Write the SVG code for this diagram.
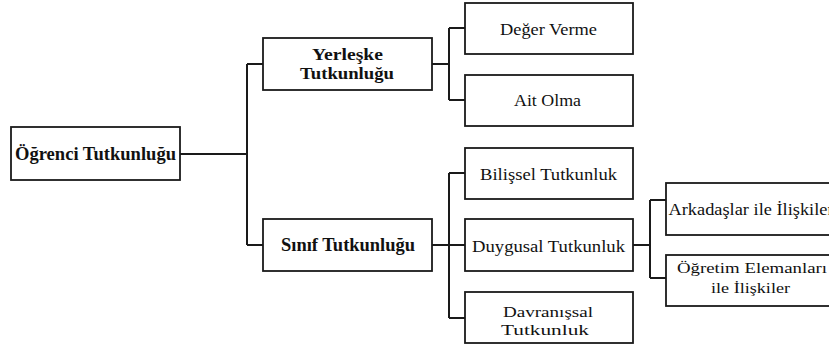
<svg xmlns="http://www.w3.org/2000/svg" width="829" height="349" viewBox="0 0 829 349">
<style>
.box{fill:#fff;stroke:#1a1a1a;stroke-width:1.8}
.con{fill:none;stroke:#1a1a1a;stroke-width:2}
text{font-family:'Liberation Serif','DejaVu Serif','Times New Roman',serif;fill:#111;text-anchor:middle}
.b{font-weight:bold;font-size:18px}
.b2{font-weight:bold;font-size:16.5px}
.r{font-size:16.5px}
.r2{font-size:15.5px}
</style>
<rect width="829" height="349" fill="#fff"/>
<g id="connectors">
<path class="con" d="M180,154 H247 M247,64 V245 M247,64 H263 M247,245 H263"/>
<path class="con" d="M432,64 H449 M449,28 V100 M449,28 H465 M449,100 H465"/>
<path class="con" d="M432,245 H449 M449,173 V318 M449,173 H465 M449,245 H465 M449,318 H465"/>
<path class="con" d="M633,245 H650 M650,200 V278 M650,200 H666 M650,278 H666"/>
</g>
<g id="ogrenci">
<rect class="box" x="11" y="127" width="169" height="53"/>
<text class="b" x="95.5" y="160" textLength="161" lengthAdjust="spacingAndGlyphs">Öğrenci Tutkunluğu</text>
</g>
<g id="yerleske">
<rect class="box" x="263" y="38" width="169" height="52"/>
<text class="b2" x="347.5" y="60" textLength="71" lengthAdjust="spacingAndGlyphs">Yerleşke</text>
<text class="b2" x="347" y="79" textLength="94" lengthAdjust="spacingAndGlyphs">Tutkunluğu</text>
</g>
<g id="sinif">
<rect class="box" x="263" y="219" width="169" height="52"/>
<text class="b" x="348" y="251" textLength="134" lengthAdjust="spacingAndGlyphs">Sınıf Tutkunluğu</text>
</g>
<g id="deger">
<rect class="box" x="465" y="3" width="168" height="51"/>
<text class="r" x="548.5" y="35" textLength="97" lengthAdjust="spacingAndGlyphs">Değer Verme</text>
</g>
<g id="ait">
<rect class="box" x="465" y="75" width="168" height="51"/>
<text class="r" x="547.5" y="106" textLength="67" lengthAdjust="spacingAndGlyphs">Ait Olma</text>
</g>
<g id="bilissel">
<rect class="box" x="465" y="148" width="168" height="51"/>
<text class="r" x="548.5" y="180" textLength="137" lengthAdjust="spacingAndGlyphs">Bilişsel Tutkunluk</text>
</g>
<g id="duygusal">
<rect class="box" x="465" y="219" width="168" height="52"/>
<text class="r" x="548.5" y="252" textLength="153" lengthAdjust="spacingAndGlyphs">Duygusal Tutkunluk</text>
</g>
<g id="davranissal">
<rect class="box" x="465" y="292" width="168" height="51"/>
<text class="r2" x="548" y="317" textLength="90" lengthAdjust="spacingAndGlyphs">Davranışsal</text>
<text class="r2" x="545" y="335" textLength="88" lengthAdjust="spacingAndGlyphs">Tutkunluk</text>
</g>
<g id="arkadaslar">
<rect class="box" x="666" y="183" width="172" height="52"/>
<text class="r" x="751" y="215" textLength="165" lengthAdjust="spacingAndGlyphs">Arkadaşlar ile İlişkiler</text>
</g>
<g id="ogretim">
<rect class="box" x="666" y="255" width="172" height="51"/>
<text class="r2" x="752" y="273" textLength="150" lengthAdjust="spacingAndGlyphs">Öğretim Elemanları</text>
<text class="r2" x="750.5" y="293" textLength="79" lengthAdjust="spacingAndGlyphs">ile İlişkiler</text>
</g>
</svg>
